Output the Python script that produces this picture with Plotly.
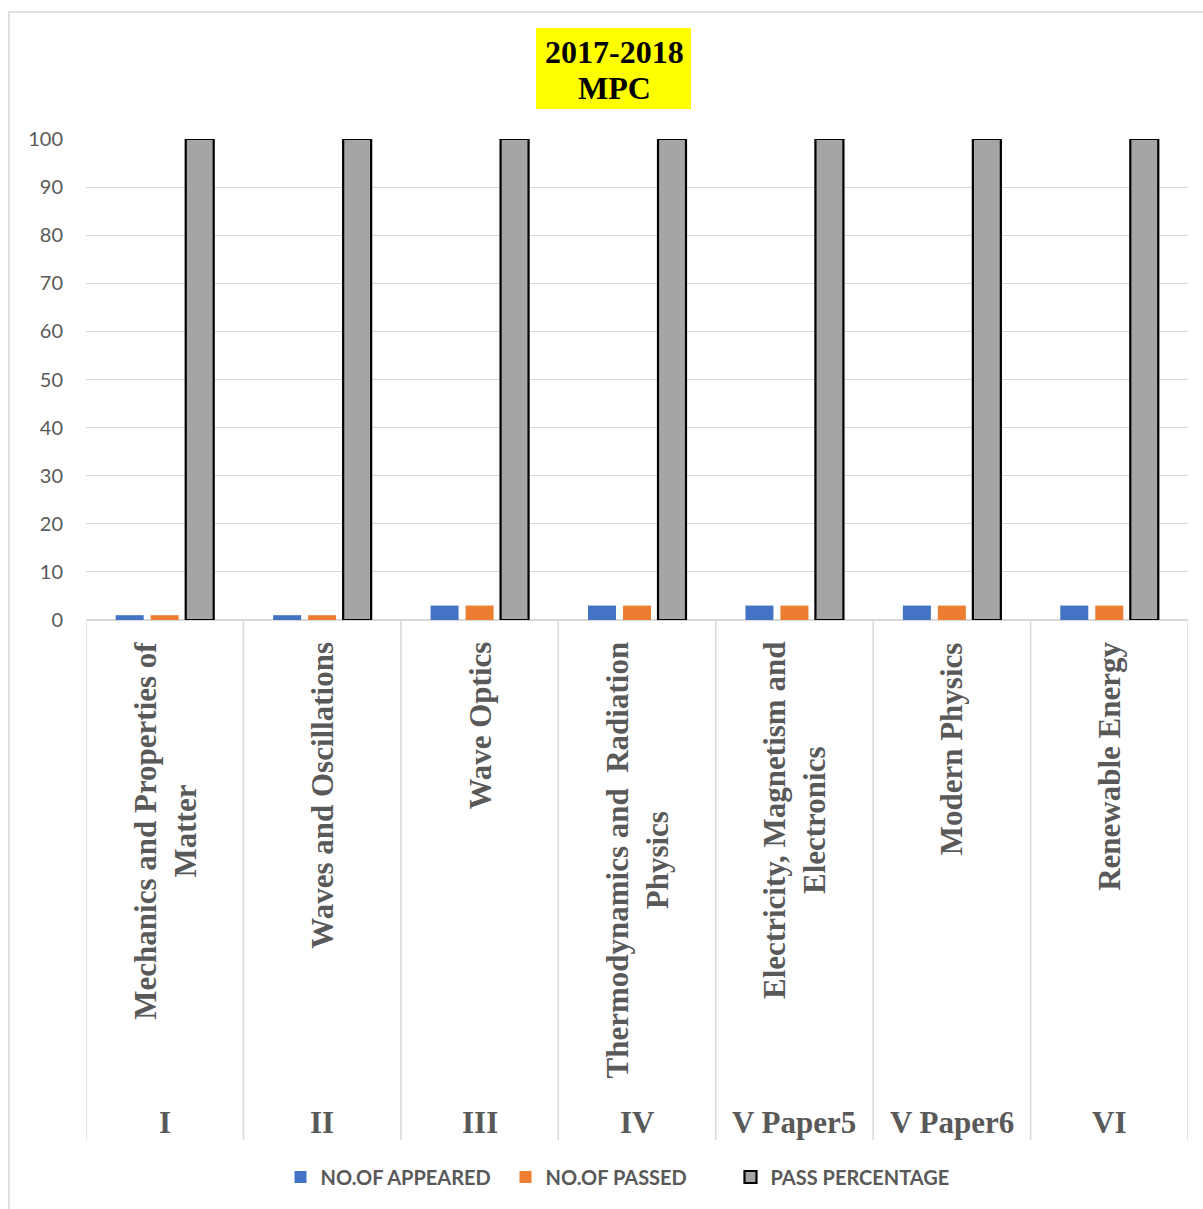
import plotly.graph_objects as go

semesters = ["I", "II", "III", "IV", "V Paper5", "V Paper6", "VI"]
subjects = [
    "Mechanics and Properties of<br>Matter",
    "Waves and Oscillations",
    "Wave Optics",
    "Thermodynamics and  Radiation<br>Physics",
    "Electricity, Magnetism and<br>Electronics",
    "Modern Physics",
    "Renewable Energy",
]
appeared = [1, 1, 3, 3, 3, 3, 3]
passed = [1, 1, 3, 3, 3, 3, 3]
pass_pct = [100, 100, 100, 100, 100, 100, 100]

W, H = 1203, 1209
L, R, T, B = 86, 15, 139, 589
PW = W - L - R
PH = H - T - B


def px_x(px):
    return (px - L) / PW


def px_y(py):
    return (H - B - py) / PH


xs = list(range(len(semesters)))
GRAY_TXT = "#595959"

fig = go.Figure()
fig.add_trace(go.Bar(x=xs, y=appeared, name="NO.OF APPEARED",
                     marker=dict(color="#4472C4", line=dict(width=0))))
fig.add_trace(go.Bar(x=xs, y=passed, name="NO.OF PASSED",
                     marker=dict(color="#ED7D31", line=dict(width=0))))
fig.add_trace(go.Bar(x=xs, y=pass_pct, name="PASS PERCENTAGE",
                     marker=dict(color="#A5A5A5", line=dict(width=2.2, color="#000000"))))

shapes = []
# outer chart border
shapes.append(dict(type="rect", xref="paper", yref="paper",
                   x0=px_x(9), x1=px_x(1230), y0=px_y(12), y1=px_y(1240),
                   line=dict(color="#d9d9d9", width=1.5), fillcolor="rgba(0,0,0,0)", layer="below"))
# title box
shapes.append(dict(type="rect", xref="paper", yref="paper",
                   x0=px_x(536), x1=px_x(691), y0=px_y(28), y1=px_y(109),
                   line=dict(width=0), fillcolor="#FFFF00", layer="below"))
# category dividers
for i in range(len(semesters) + 1):
    shapes.append(dict(type="line", xref="x", yref="paper",
                       x0=i - 0.5, x1=i - 0.5, y0=0, y1=px_y(1140),
                       line=dict(color="#d9d9d9", width=1.5)))

annotations = []
annotations.append(dict(text="<b>2017-2018</b>", xref="paper", yref="paper",
                        x=px_x(614), y=px_y(52), showarrow=False,
                        xanchor="center", yanchor="middle",
                        font=dict(family="Liberation Serif", size=32, color="#000000")))
annotations.append(dict(text="<b>MPC</b>", xref="paper", yref="paper",
                        x=px_x(614), y=px_y(88), showarrow=False,
                        xanchor="center", yanchor="middle",
                        font=dict(family="Liberation Serif", size=32, color="#000000")))
for i, s in enumerate(subjects):
    annotations.append(dict(text="<b>" + s + "</b>", xref="x", yref="paper",
                            x=i, y=px_y(640), showarrow=False, textangle=-90,
                            xanchor="center", yanchor="top", align="center",
                            font=dict(family="Liberation Serif", size=31, color=GRAY_TXT)))
for i, s in enumerate(semesters):
    annotations.append(dict(text="<b>" + s + "</b>", xref="x", yref="paper",
                            x=i, y=px_y(1122), showarrow=False,
                            xanchor="center", yanchor="middle",
                            font=dict(family="Liberation Serif", size=31, color=GRAY_TXT)))

fig.update_layout(
    width=W, height=H,
    margin=dict(l=L, r=R, t=T, b=B, pad=0),
    paper_bgcolor="white", plot_bgcolor="white",
    barmode="group", bargap=0.333, bargroupgap=0.2,
    showlegend=True,
    legend=dict(orientation="h", xref="paper", yref="paper",
                x=px_x(618), y=px_y(1177), xanchor="center", yanchor="middle",
                entrywidth=180, entrywidthmode="pixels",
                font=dict(family="Lato", size=20, color=GRAY_TXT, weight=700),
                itemclick=False, traceorder="normal"),
    xaxis=dict(range=[-0.5, len(semesters) - 0.5], showticklabels=False,
               showgrid=False, zeroline=False, showline=False, ticks=""),
    yaxis=dict(range=[0, 100], dtick=10, showgrid=True, gridcolor="#d9d9d9",
               gridwidth=1.3, zeroline=True, zerolinecolor="#d9d9d9", zerolinewidth=1.5,
               showline=False, ticks="", ticklabelstandoff=22,
               tickfont=dict(family="Lato", size=20, color=GRAY_TXT)),
    shapes=shapes,
    annotations=annotations,
)

fig.write_html("out.html", config={"displayModeBar": False},
               post_script="document.body.style.margin='0';")
